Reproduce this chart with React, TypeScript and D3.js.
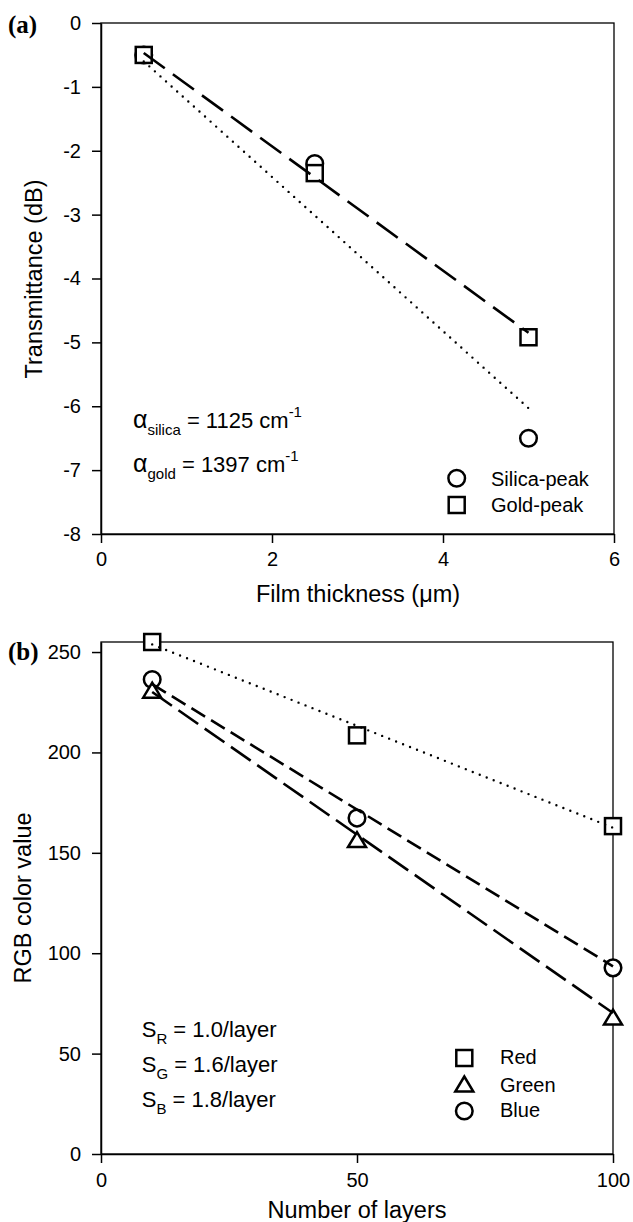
import React, { useEffect, useRef } from "react";
import * as d3 from "d3";

// panel (a) data
const thicknessUm = [0.5, 2.5, 5];
const silicaPeak = [-0.5, -2.2, -6.5];
const goldPeak = [-0.5, -2.35, -4.92];
const fitThickness = [0.5, 5];
const silicaFit = [-0.6, -6.03];
const goldFit = [-0.47, -4.85];
const ticksAX = [0, 2, 4, 6];
const ticksAY = [0, -1, -2, -3, -4, -5, -6, -7, -8];

// panel (b) data
const layers = [10, 50, 100];
const redVals = [255, 208.5, 163.3];
const greenVals = [231, 156.6, 68.2];
const blueVals = [236.3, 167.3, 92.7];
const fitLayers = [10, 100];
const redFit = [253.8, 162.5];
const greenFit = [230.1, 70.2];
const blueFit = [234, 93.5];
const ticksBX = [0, 50, 100];
const ticksBY = [0, 50, 100, 150, 200, 250];

const FONT = "'Liberation Sans', Arial, sans-serif";
const SERIF = "'Liberation Serif', 'Times New Roman', serif";

const LONG_DASH = "26 10";
const MID_DASH = "16 7";
const GREEN_DASH = "24 8";
const DOTS = "0 7.5";

const plain = (d) => String(d); // hyphen minus like the original, no "0.0"

function drawCircle(g, x, y) {
  g.append("circle").attr("cx", x).attr("cy", y).attr("r", 8.3)
    .attr("fill", "white").attr("stroke", "black").attr("stroke-width", 2.5);
}
function drawSquare(g, x, y) {
  g.append("rect").attr("x", x - 8).attr("y", y - 8).attr("width", 16).attr("height", 16)
    .attr("fill", "white").attr("stroke", "black").attr("stroke-width", 2.5);
}
function drawTriangle(g, x, y) {
  const h = 15, w = 18;
  g.append("path")
    .attr("d", `M${x},${y - h / 2}L${x + w / 2},${y + h / 2}L${x - w / 2},${y + h / 2}Z`)
    .attr("fill", "white").attr("stroke", "black").attr("stroke-width", 2.5)
    .attr("stroke-linejoin", "miter");
}

function styleAxis(ax) {
  ax.select(".domain").attr("stroke-width", 1.5);
  ax.selectAll(".tick line").attr("stroke-width", 1.5);
  ax.selectAll(".tick text").attr("font-size", 20).attr("font-family", FONT).attr("fill", "black");
}

function dotted(path) {
  return path.attr("fill", "none").attr("stroke", "black").attr("stroke-width", 2.4)
    .attr("stroke-linecap", "round").attr("stroke-dasharray", DOTS);
}

export default function App() {
  const svgRef = useRef(null);

  useEffect(() => {
    const svg = d3.select(svgRef.current);
    svg.selectAll("*").remove();

    // ---------- panel (a) ----------
    const xA = d3.scaleLinear().domain([0, 6]).range([101, 614]);
    const yA = d3.scaleLinear().domain([-8, 0]).range([534, 23]);
    const a = svg.append("g");

    a.append("rect").attr("x", 101).attr("y", 23).attr("width", 513).attr("height", 511)
      .attr("fill", "none").attr("stroke", "black").attr("stroke-width", 1.3);

    const axA = a.append("g").attr("transform", "translate(101,0)")
      .call(d3.axisLeft(yA).tickValues(ticksAY).tickFormat(plain).tickSize(9).tickSizeOuter(0).tickPadding(11));
    styleAxis(axA);
    const axAB = a.append("g").attr("transform", "translate(0,534)")
      .call(d3.axisBottom(xA).tickValues(ticksAX).tickFormat(plain).tickSize(9).tickSizeOuter(0).tickPadding(9));
    styleAxis(axAB);

    // markers
    thicknessUm.forEach((t, i) => drawCircle(a, xA(t), yA(silicaPeak[i])));
    thicknessUm.forEach((t, i) => drawSquare(a, xA(t), yA(goldPeak[i])));

    const lineA = d3.line().x((d) => xA(d[0])).y((d) => yA(d[1]));
    a.append("path").attr("d", lineA(fitThickness.map((t, i) => [t, goldFit[i]])))
      .attr("fill", "none").attr("stroke", "black").attr("stroke-width", 2.6).attr("stroke-dasharray", LONG_DASH);
    dotted(a.append("path").attr("d", lineA(fitThickness.map((t, i) => [t, silicaFit[i]]))));

    // legend (a)
    drawCircle(a, 456.7, 478.3);
    drawSquare(a, 456.7, 505);
    a.append("text").attr("x", 491).attr("y", 486).attr("font-size", 20).attr("font-family", FONT).text("Silica-peak");
    a.append("text").attr("x", 491).attr("y", 512).attr("font-size", 20).attr("font-family", FONT).text("Gold-peak");

    // annotation (a)
    const annA = [["silica", "1125"], ["gold", "1397"]];
    annA.forEach((d, i) => {
      const t = a.append("text").attr("x", 133).attr("y", 428.3 + i * 43.4)
        .attr("font-size", 22).attr("font-family", FONT);
      t.append("tspan").attr("font-size", 25).text("α");
      t.append("tspan").attr("font-size", 15).attr("dy", 7).text(d[0]);
      t.append("tspan").attr("dy", -7).text(` = ${d[1]} cm`);
      t.append("tspan").attr("font-size", 15).attr("dy", -11).text("-1");
    });

    a.append("text").attr("transform", "translate(42,279) rotate(-90)").attr("text-anchor", "middle")
      .attr("font-size", 23.5).attr("font-family", FONT).text("Transmittance (dB)");
    a.append("text").attr("x", 358).attr("y", 602).attr("text-anchor", "middle")
      .attr("font-size", 23.5).attr("font-family", FONT).text("Film thickness (μm)");
    a.append("text").attr("x", 8).attr("y", 33).attr("font-size", 25).attr("font-weight", "bold")
      .attr("font-family", SERIF).text("(a)");

    // ---------- panel (b) ----------
    const xB = d3.scaleLinear().domain([0, 100]).range([101, 613]);
    const yB = d3.scaleLinear().domain([0, 255]).range([1154, 642]);
    const b = svg.append("g");

    b.append("rect").attr("x", 101).attr("y", 642).attr("width", 512).attr("height", 512)
      .attr("fill", "none").attr("stroke", "black").attr("stroke-width", 1.3);

    const axBL = b.append("g").attr("transform", "translate(101,0)")
      .call(d3.axisLeft(yB).tickValues(ticksBY).tickFormat(plain).tickSize(9).tickSizeOuter(0).tickPadding(11));
    styleAxis(axBL);
    const axBB = b.append("g").attr("transform", "translate(0,1154)")
      .call(d3.axisBottom(xB).tickValues(ticksBX).tickFormat(plain).tickSize(9).tickSizeOuter(0).tickPadding(10));
    styleAxis(axBB);

    layers.forEach((l, i) => drawCircle(b, xB(l), yB(blueVals[i])));
    layers.forEach((l, i) => drawTriangle(b, xB(l), yB(greenVals[i])));
    layers.forEach((l, i) => drawSquare(b, xB(l), yB(redVals[i])));

    const lineB = d3.line().x((d) => xB(d[0])).y((d) => yB(d[1]));
    dotted(b.append("path").attr("d", lineB(fitLayers.map((l, i) => [l, redFit[i]]))));
    b.append("path").attr("d", lineB(fitLayers.map((l, i) => [l, blueFit[i]])))
      .attr("fill", "none").attr("stroke", "black").attr("stroke-width", 2.6).attr("stroke-dasharray", MID_DASH);
    b.append("path").attr("d", lineB(fitLayers.map((l, i) => [l, greenFit[i]])))
      .attr("fill", "none").attr("stroke", "black").attr("stroke-width", 2.6).attr("stroke-dasharray", GREEN_DASH);

    // legend (b)
    drawSquare(b, 464.3, 1058);
    drawTriangle(b, 464.3, 1084);
    drawCircle(b, 464.3, 1111);
    [["Red", 1064], ["Green", 1091.7], ["Blue", 1116.7]].forEach(([s, y]) => {
      b.append("text").attr("x", 500).attr("y", y).attr("font-size", 20).attr("font-family", FONT).text(s);
    });

    // annotation (b)
    const annB = [["R", "1.0"], ["G", "1.6"], ["B", "1.8"]];
    annB.forEach((d, i) => {
      const t = b.append("text").attr("x", 141.7).attr("y", 1036.7 + i * 35)
        .attr("font-size", 22).attr("font-family", FONT);
      t.append("tspan").text("S");
      t.append("tspan").attr("font-size", 15).attr("dy", 7).text(d[0]);
      t.append("tspan").attr("dy", -7).text(` = ${d[1]}/layer`);
    });

    b.append("text").attr("transform", "translate(31,898) rotate(-90)").attr("text-anchor", "middle")
      .attr("font-size", 23.5).attr("font-family", FONT).text("RGB color value");
    b.append("text").attr("x", 357).attr("y", 1218).attr("text-anchor", "middle")
      .attr("font-size", 23.5).attr("font-family", FONT).text("Number of layers");
    b.append("text").attr("x", 8).attr("y", 660).attr("font-size", 25).attr("font-weight", "bold")
      .attr("font-family", SERIF).text("(b)");
  }, []);

  return (
    <svg
      ref={svgRef}
      width={633}
      height={1222}
      style={{ position: "absolute", left: 0, top: 0, background: "white" }}
    />
  );
}
